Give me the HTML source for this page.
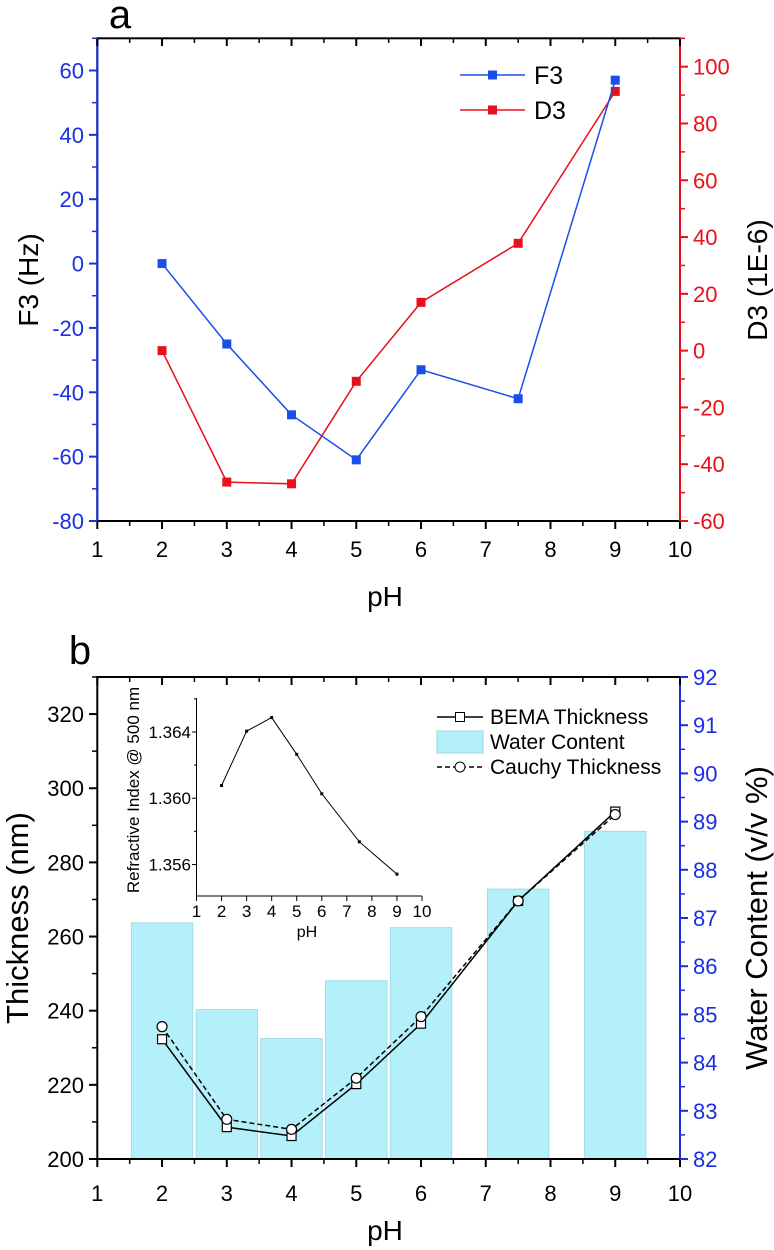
<!DOCTYPE html>
<html><head><meta charset="utf-8"><style>
body{margin:0;background:#fff}
svg{display:block;font-family:"Liberation Sans",Arial,sans-serif}
</style></head><body>
<svg id="s" width="774" height="1250" viewBox="0 0 774 1250" xmlns="http://www.w3.org/2000/svg"></svg>
<script>
const phA=[2,3,4,5,6,7.5,9];
const f3=[0,-25,-47,-61,-33,-42,57];
const d3=[0,-46.3,-46.9,-10.8,17,37.8,91.3];
const xTicks=[1,2,3,4,5,6,7,8,9,10];
const f3Ticks=[-80,-60,-40,-20,0,20,40,60];
const d3Ticks=[-60,-40,-20,0,20,40,60,80,100];
const phB=[2,3,4,5,6,7.5,9];
const water=[86.9,85.1,84.5,85.7,86.8,87.6,88.8];
const bema=[232.3,208.6,206.2,220.2,236.5,269.6,293.7];
const cauchy=[235.7,210.7,208,221.8,238.4,269.6,292.9];
const thTicks=[200,220,240,260,280,300,320];
const wcTicks=[82,83,84,85,86,87,88,89,90,91,92];
const riPh=[2,3,4,5,6,7.5,9];
const ri=[1.36077,1.36405,1.36487,1.36265,1.36027,1.35737,1.35542];
const riTicks=[1.356,1.360,1.364];

const S=document.getElementById('s');const NS='http://www.w3.org/2000/svg';
function el(t,a,p){const e=document.createElementNS(NS,t);for(const k in a)e.setAttribute(k,a[k]);(p||S).appendChild(e);return e;}
function txt(x,y,s,a,p){const e=el('text',Object.assign({x:x,y:y},a),p);e.textContent=s;return e;}
function lin(d0,d1,r0,r1){return v=>r0+(v-d0)/(d1-d0)*(r1-r0);}

/* ---------- Panel a ---------- */
const ga=el('g',{});
const xa=lin(1,10,97.3,680), ya=lin(-80,70,521,38.3), ya2=lin(-60,110,521,38.3);
el('rect',{x:97.3,y:38.3,width:582.7,height:482.7,fill:'none',stroke:'#000','stroke-width':2},ga);
el('line',{x1:97.3,y1:38.3,x2:97.3,y2:521,stroke:'#1a2fe0','stroke-width':2},ga);
el('line',{x1:680,y1:38.3,x2:680,y2:521,stroke:'#e8101a','stroke-width':2},ga);
xTicks.forEach(v=>{const x=xa(v);el('line',{x1:x,y1:521,x2:x,y2:529,stroke:'#000','stroke-width':2},ga);el('line',{x1:x,y1:38.3,x2:x,y2:46,stroke:'#000','stroke-width':2},ga);
 const t=txt(x,557,String(v),{'text-anchor':'middle','font-size':22},ga);
 if(v<10){const m=xa(v+0.5);el('line',{x1:m,y1:521,x2:m,y2:526,stroke:'#000','stroke-width':1.5},ga);el('line',{x1:m,y1:38.3,x2:m,y2:43,stroke:'#000','stroke-width':1.5},ga);}});
f3Ticks.forEach(v=>{const y=ya(v);el('line',{x1:89,y1:y,x2:97.3,y2:y,stroke:'#1a2fe0','stroke-width':2},ga);el('line',{x1:92,y1:ya(v+10),x2:97.3,y2:ya(v+10),stroke:'#1a2fe0','stroke-width':1.5},ga);
 const t=txt(84,y+8,String(v),{'text-anchor':'end','font-size':22,fill:'#1a2fe0'},ga);});
d3Ticks.forEach(v=>{const y=ya2(v);el('line',{x1:680,y1:y,x2:688,y2:y,stroke:'#e8101a','stroke-width':2},ga);el('line',{x1:680,y1:ya2(v+10),x2:685,y2:ya2(v+10),stroke:'#e8101a','stroke-width':1.5},ga);
 const t=txt(693,y+8,String(v),{'font-size':22,fill:'#e8101a'},ga);});
let t=txt(385,606,'pH',{'text-anchor':'middle','font-size':28},ga);
t=txt(0,0,'F3 (Hz)',{'text-anchor':'middle','font-size':28,transform:'translate(38,280) rotate(-90)'},ga);
t=txt(0,0,'D3 (1E-6)',{'text-anchor':'middle','font-size':28,transform:'translate(767,280) rotate(-90)'},ga);
t=txt(120,28,'a',{'text-anchor':'middle','font-size':40},ga);
function series(xs,ys,fx,fy,col,name,p){const pl=el('polyline',{points:xs.map((x,i)=>fx(x)+','+fy(ys[i])).join(' '),fill:'none',stroke:col,'stroke-width':1.5},p);
 xs.forEach((x,i)=>{const r=el('rect',{x:fx(x)-4.5,y:fy(ys[i])-4.5,width:9,height:9,fill:col},p);});}
series(phA,d3,xa,ya2,'#e8101a','d3',ga);
series(phA,f3,xa,ya,'#1a4ee8','f3',ga);
el('line',{x1:460,y1:75,x2:525,y2:75,stroke:'#1a4ee8','stroke-width':1.5},ga);el('rect',{x:488,y:70.5,width:9,height:9,fill:'#1a4ee8'},ga);
t=txt(534,84,'F3',{'font-size':25},ga);
el('line',{x1:460,y1:110,x2:525,y2:110,stroke:'#e8101a','stroke-width':1.5},ga);el('rect',{x:488,y:105.5,width:9,height:9,fill:'#e8101a'},ga);
t=txt(534,119,'D3',{'font-size':25},ga);

/* ---------- Panel b ---------- */
const gb=el('g',{});
const xb=lin(1,10,97.3,680), yb=lin(200,330,1159,677), yw=lin(82,92,1159,677);
phB.forEach((p,i)=>{const w=0.95*(xb(2)-xb(1));const r=el('rect',{x:xb(p)-w/2,y:yw(water[i]),width:w,height:1159-yw(water[i]),fill:'#b3f0f9',stroke:'#9ad6e0','stroke-width':0.8},gb);});
el('rect',{x:97.3,y:677,width:582.7,height:482,fill:'none',stroke:'#000','stroke-width':2},gb);
el('line',{x1:680,y1:677,x2:680,y2:1159,stroke:'#1a2fe0','stroke-width':2},gb);
xTicks.forEach(v=>{const x=xb(v);el('line',{x1:x,y1:1159,x2:x,y2:1167,stroke:'#000','stroke-width':2},gb);el('line',{x1:x,y1:677,x2:x,y2:685,stroke:'#000','stroke-width':2},gb);
 const t=txt(x,1201,String(v),{'text-anchor':'middle','font-size':22},gb);
 if(v<10){const m=xb(v+0.5);el('line',{x1:m,y1:1159,x2:m,y2:1164,stroke:'#000','stroke-width':1.5},gb);el('line',{x1:m,y1:677,x2:m,y2:682,stroke:'#000','stroke-width':1.5},gb);}});
thTicks.forEach(v=>{const y=yb(v);el('line',{x1:89,y1:y,x2:97.3,y2:y,stroke:'#000','stroke-width':2},gb);el('line',{x1:92,y1:yb(v+10),x2:97.3,y2:yb(v+10),stroke:'#000','stroke-width':1.5},gb);
 const t=txt(84,y+8,String(v),{'text-anchor':'end','font-size':22},gb);});
wcTicks.forEach(v=>{const y=yw(v);el('line',{x1:680,y1:y,x2:688,y2:y,stroke:'#1a2fe0','stroke-width':2},gb);if(v<92)el('line',{x1:680,y1:yw(v+0.5),x2:685,y2:yw(v+0.5),stroke:'#1a2fe0','stroke-width':1.5},gb);
 const t=txt(693,y+8,String(v),{'font-size':22,fill:'#1a2fe0'},gb);});
t=txt(385,1240,'pH',{'text-anchor':'middle','font-size':28},gb);
t=txt(0,0,'Thickness (nm)',{'text-anchor':'middle','font-size':31,transform:'translate(28,918) rotate(-90)'},gb);
t=txt(0,0,'Water Content (v/v %)',{'text-anchor':'middle','font-size':31,transform:'translate(767,918) rotate(-90)'},gb);
t=txt(80,664,'b',{'text-anchor':'middle','font-size':40},gb);
let pl=el('polyline',{points:phB.map((x,i)=>xb(x)+','+yb(cauchy[i])).join(' '),fill:'none',stroke:'#000','stroke-width':1.5,'stroke-dasharray':'5,3'},gb);
pl=el('polyline',{points:phB.map((x,i)=>xb(x)+','+yb(bema[i])).join(' '),fill:'none',stroke:'#000','stroke-width':1.5},gb);
phB.forEach((x,i)=>{const r=el('rect',{x:xb(x)-4.5,y:yb(bema[i])-4.5,width:9,height:9,fill:'#fff',stroke:'#000','stroke-width':1.2},gb);
 const c=el('circle',{cx:xb(x),cy:yb(cauchy[i]),r:5,fill:'#fff',stroke:'#000','stroke-width':1.2},gb);});
// legend
el('line',{x1:437,y1:717,x2:483,y2:717,stroke:'#000','stroke-width':1.5},gb);el('rect',{x:455.5,y:712.5,width:9,height:9,fill:'#fff',stroke:'#000'},gb);
t=txt(490,724,'BEMA Thickness',{'font-size':21},gb);
el('rect',{x:437,y:731,width:46,height:22,fill:'#b3f0f9',stroke:'#9ad6e0'},gb);
t=txt(490,749,'Water Content',{'font-size':21},gb);
el('line',{x1:437,y1:767,x2:483,y2:767,stroke:'#000','stroke-width':1.5,'stroke-dasharray':'5,3'},gb);el('circle',{cx:460,cy:767,r:5,fill:'#fff',stroke:'#000'},gb);
t=txt(490,774,'Cauchy Thickness',{'font-size':21},gb);
// inset
const gi=el('g',{},gb);
const xi=lin(1,10,196.5,422), yi=lin(1.3541,1.36605,896,698);
el('line',{x1:196.5,y1:698,x2:196.5,y2:896,stroke:'#000','stroke-width':1},gi);
el('line',{x1:196.5,y1:896,x2:422,y2:896,stroke:'#000','stroke-width':1},gi);
xTicks.forEach(v=>{const x=xi(v);el('line',{x1:x,y1:896,x2:x,y2:901,stroke:'#000'},gi);
 const t=txt(x,917,String(v),{'text-anchor':'middle','font-size':17},gi);});
riTicks.forEach(v=>{const y=yi(v);el('line',{x1:192,y1:y,x2:196.5,y2:y,stroke:'#000'},gi);el('line',{x1:194,y1:yi(v+0.002),x2:196.5,y2:yi(v+0.002),stroke:'#000'},gi);
 const t=txt(191,y+6,v.toFixed(3),{'text-anchor':'end','font-size':17},gi);});
t=txt(307,937,'pH',{'text-anchor':'middle','font-size':16},gi);
t=txt(0,0,'Refractive Index @ 500 nm',{'text-anchor':'middle','font-size':17,transform:'translate(139,790) rotate(-90)'},gi);
pl=el('polyline',{points:riPh.map((x,i)=>xi(x)+','+yi(ri[i])).join(' '),fill:'none',stroke:'#000','stroke-width':1},gi);
riPh.forEach((x,i)=>{const r=el('rect',{x:xi(x)-1.5,y:yi(ri[i])-1.5,width:3,height:3,fill:'#000'},gi);});
</script>
</body></html>
